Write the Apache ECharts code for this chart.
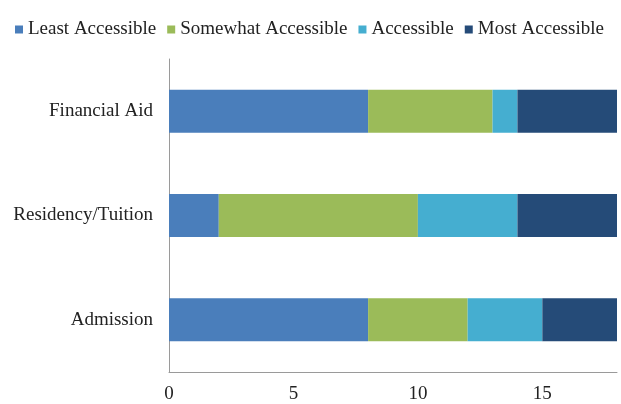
<!DOCTYPE html>
<html><head><meta charset="utf-8">
<script src="https://cdn.jsdelivr.net/npm/echarts@6/dist/echarts.min.js"></script>
<style>html,body{margin:0;padding:0;background:#fff}#c{width:621px;height:404px}</style>
</head><body><div id="c"></div>
<script>
const categories = ['Admission', 'Residency/Tuition', 'Financial Aid'];
const seriesNames = ['Least Accessible', 'Somewhat Accessible', 'Accessible', 'Most Accessible'];
const leastAccessible = [8, 2, 8];
const somewhatAccessible = [4, 8, 5];
const accessible = [3, 4, 1];
const mostAccessible = [3, 4, 4];
const xTicks = [0, 5, 10, 15];
const colors = ['#4A7EBB', '#9BBB59', '#45AED0', '#254B78'];

const values = [leastAccessible, somewhatAccessible, accessible, mostAccessible];
const font = 'Liberation Serif';
const chart = echarts.init(document.getElementById('c'));
chart.setOption({
  animation: false,
  color: colors,
  legend: {
    top: 15, left: 10,
    itemWidth: 8, itemHeight: 8, itemGap: 11,
    icon: 'rect',
    textStyle: { fontFamily: font, fontSize: 19, color: '#222' },
    data: seriesNames
  },
  grid: { left: 169, right: 4, top: 59, bottom: 32 },
  xAxis: {
    type: 'value', min: 0, max: 18, interval: 5,
    axisLine: { show: true, lineStyle: { color: '#9a9a9a' } },
    axisTick: { show: false },
    splitLine: { show: false },
    axisLabel: { fontFamily: font, fontSize: 19, color: '#222', margin: 13,
      formatter: v => xTicks.includes(v) ? String(v) : '' }
  },
  yAxis: {
    type: 'category', data: categories,
    axisLine: { show: true, lineStyle: { color: '#9a9a9a' } },
    axisTick: { show: false },
    axisLabel: { fontFamily: font, fontSize: 19, color: '#222', margin: 16 }
  },
  series: seriesNames.map((n, i) => ({
    name: n, type: 'bar', stack: 'all', barWidth: 43,
    data: values[i]
  }))
});
</script></body></html>
